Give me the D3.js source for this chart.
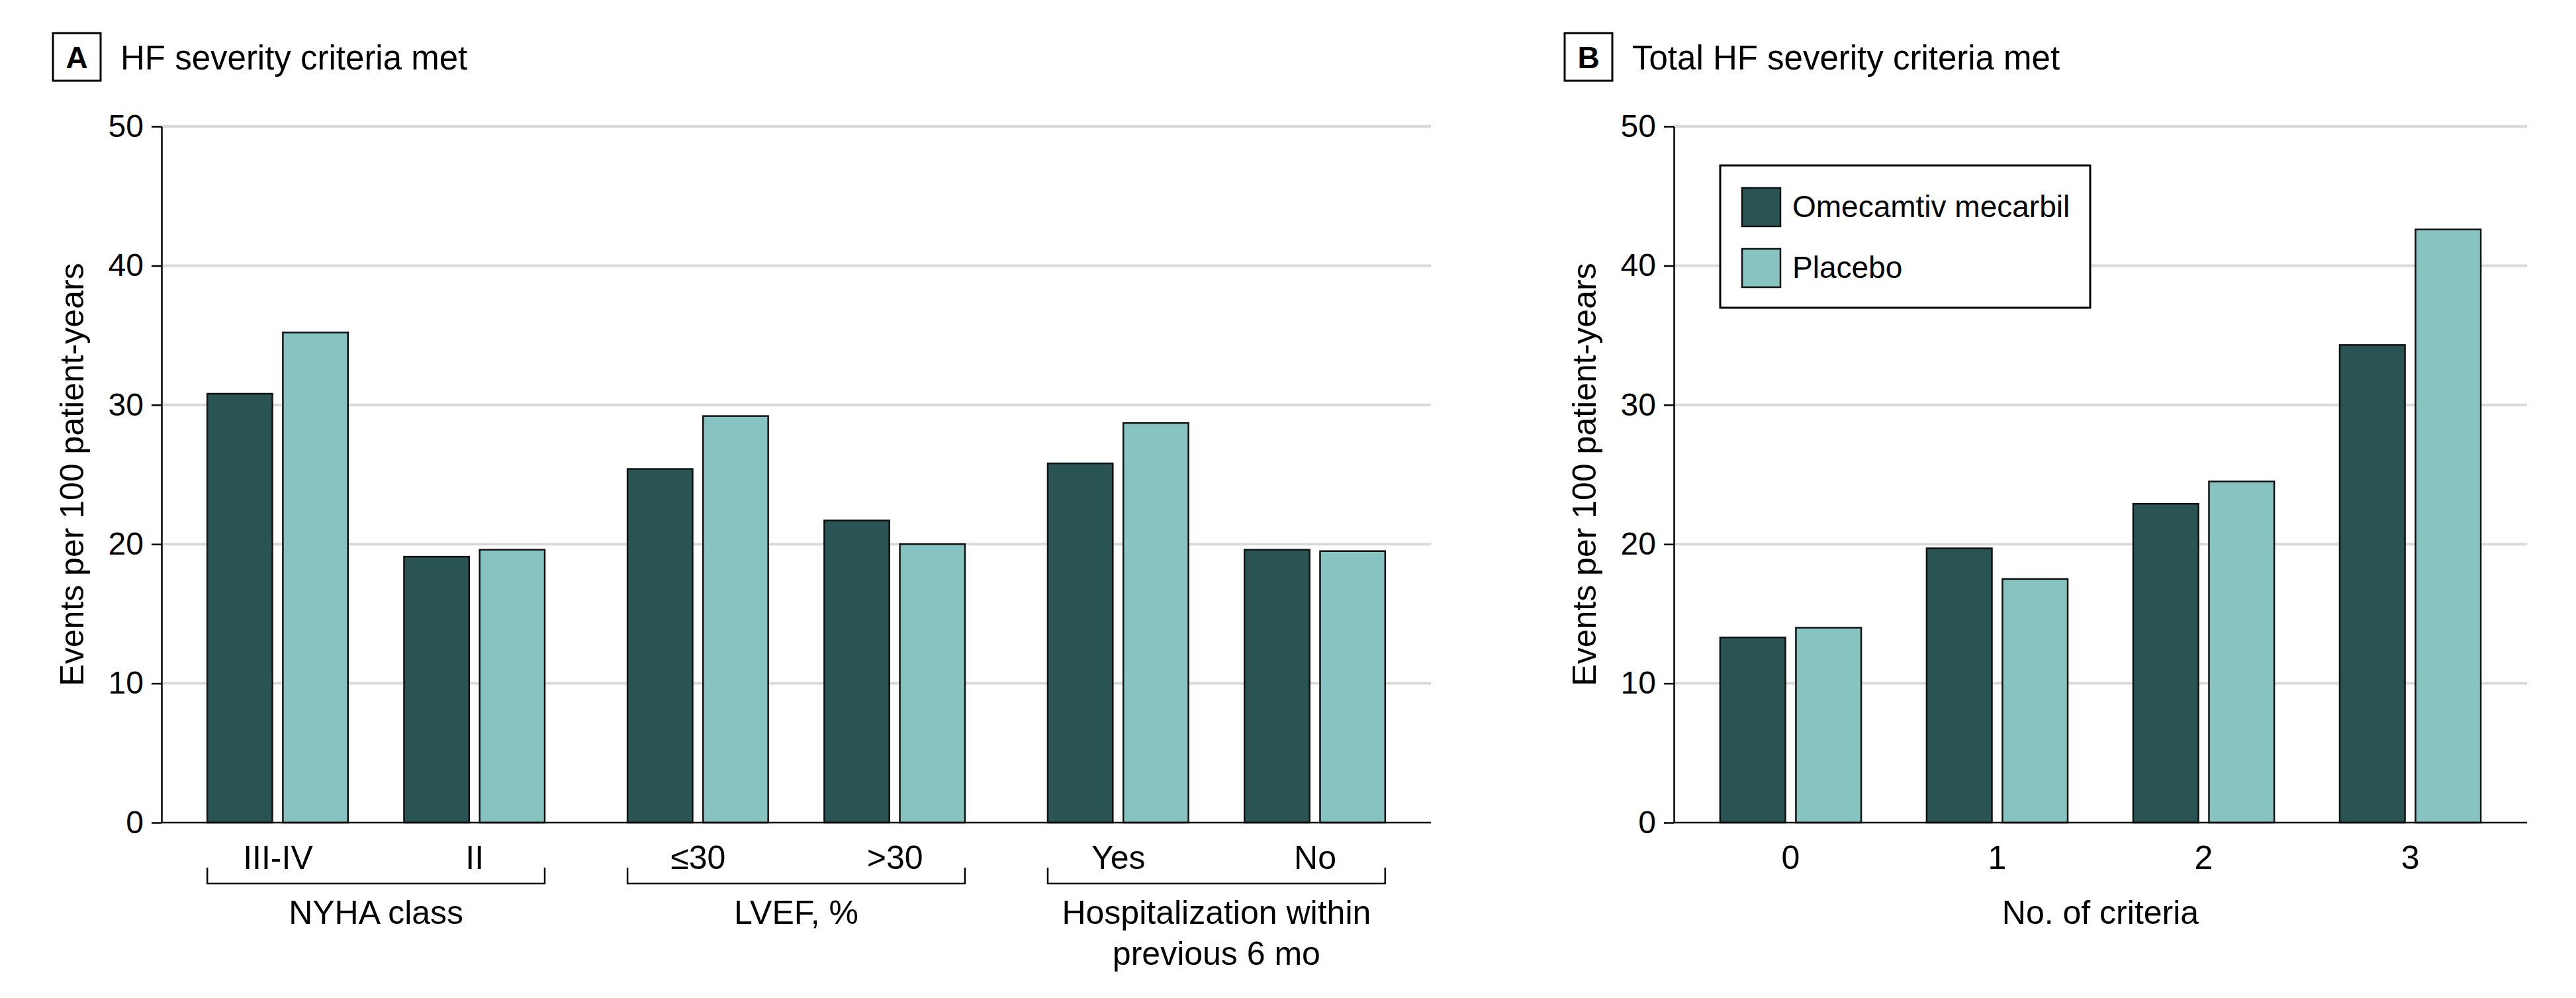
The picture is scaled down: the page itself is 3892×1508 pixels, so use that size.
<!DOCTYPE html>
<html>
<head>
<meta charset="utf-8">
<script src="https://cdn.jsdelivr.net/npm/d3@7"></script>
<style>
  html, body { margin: 0; padding: 0; background: #fff; }
  svg { display: block; }
  text { font-family: "Liberation Sans", Arial, sans-serif; fill: #000; }
</style>
</head>
<body>
<script>
// ---------------- data ----------------
const seriesNames = ["Omecamtiv mecarbil", "Placebo"];
const seriesColors = ["#2a5353", "#86c3c1"];

const panelAClusters = ["NYHA class", "LVEF, %", "Hospitalization within|previous 6 mo"];
const panelACategories = ["III-IV", "II", "≤30", ">30", "Yes", "No"];
const panelAClusterIndex = [0, 0, 1, 1, 2, 2];
const panelAOmecamtiv = [30.8, 19.1, 25.4, 21.7, 25.8, 19.6];
const panelAPlacebo = [35.2, 19.6, 29.2, 20.0, 28.7, 19.5];

const panelBCategories = ["0", "1", "2", "3"];
const panelBOmecamtiv = [13.3, 19.7, 22.9, 34.3];
const panelBPlacebo = [14.0, 17.5, 24.5, 42.6];

const yTicks = [0, 10, 20, 30, 40, 50];
const yTitle = "Events per 100 patient-years";
const panelATitle = "HF severity criteria met";
const panelBTitle = "Total HF severity criteria met";
const panelBXTitle = "No. of criteria";

// ---------------- setup ----------------
const W = 3892, H = 1508;
const svg = d3.select("body").append("svg").attr("width", W).attr("height", H);

const y = d3.scaleLinear().domain([0, 50]).range([1243, 191]);
const AXIS_W = 2.5;

function panelFrame(x0, x1, letter, boxX, titleText) {
  const g = svg.append("g");
  // gridlines
  g.selectAll("line.grid").data(yTicks.filter(d => d > 0)).join("line")
    .attr("x1", x0).attr("x2", x1)
    .attr("y1", d => y(d)).attr("y2", d => y(d))
    .attr("stroke", "#d9d9d9").attr("stroke-width", 4);
  // panel label box
  g.append("rect").attr("x", boxX).attr("y", 50).attr("width", 72).attr("height", 72)
    .attr("fill", "none").attr("stroke", "#000").attr("stroke-width", 3);
  g.append("text").attr("x", boxX + 36).attr("y", 103).attr("text-anchor", "middle")
    .attr("font-size", 46).attr("font-weight", "bold").text(letter);
  g.append("text").attr("x", boxX + 102).attr("y", 105)
    .attr("font-size", 51).text(titleText);
  // y title
  g.append("text").attr("transform", `translate(${x0 - 118},717) rotate(-90)`)
    .attr("text-anchor", "middle").attr("font-size", 50).text(yTitle);
  return g;
}

function yAxis(x0) {
  const ax = svg.append("g").attr("transform", `translate(${x0},0)`)
    .call(d3.axisLeft(y).tickValues(yTicks).tickSize(15).tickSizeOuter(0).tickPadding(12));
  ax.select(".domain").attr("stroke", "#000").attr("stroke-width", AXIS_W);
  ax.selectAll(".tick line").attr("stroke", "#000").attr("stroke-width", AXIS_W);
  ax.selectAll(".tick text").attr("font-size", 48).attr("font-family", "Liberation Sans, Arial, sans-serif").attr("fill", "#000");
}

function baseline(x0, x1) {
  svg.append("line").attr("x1", x0).attr("x2", x1).attr("y1", y(0)).attr("y2", y(0))
    .attr("stroke", "#000").attr("stroke-width", AXIS_W);
}

function drawBars(centersStart, bandW, valuesBySeries) {
  const s = d3.scaleBand().domain(seriesNames).range([0, bandW]).paddingInner(0.139);
  const rows = [];
  centersStart.forEach((x, i) => {
    seriesNames.forEach((name, k) => {
      rows.push({ x: x + s(name), v: valuesBySeries[k][i], c: seriesColors[k] });
    });
  });
  svg.append("g").selectAll("rect").data(rows).join("rect")
    .attr("x", d => d.x).attr("width", s.bandwidth())
    .attr("y", d => y(d.v)).attr("height", d => y(0) - y(d.v))
    .attr("fill", d => d.c).attr("stroke", "#111").attr("stroke-width", 2.5);
}

// ---------------- Panel A ----------------
const AX0 = 244, AX1 = 2162;
panelFrame(AX0, AX1, "A", 80, panelATitle);

const outerA = d3.scaleBand().domain(d3.range(panelAClusters.length)).range([AX0, AX1])
  .paddingInner(0.197).paddingOuter(0.109);
const innerA = d3.scaleBand().domain([0, 1]).range([0, outerA.bandwidth()])
  .paddingInner(0.285).paddingOuter(0);

const groupStartsA = panelACategories.map((c, i) => {
  const ci = panelAClusterIndex[i];
  const within = panelAClusterIndex.slice(0, i).filter(v => v === ci).length;
  return outerA(ci) + innerA(within);
});
drawBars(groupStartsA, innerA.bandwidth(), [panelAOmecamtiv, panelAPlacebo]);
baseline(AX0, AX1);
yAxis(AX0);

// x tick labels A via ordinal scale
const xLabA = d3.scaleOrdinal(panelACategories, groupStartsA.map(s => s + innerA.bandwidth() / 2));
const axA = svg.append("g").attr("transform", `translate(0,${y(0)})`)
  .call(d3.axisBottom(xLabA).tickSize(0).tickPadding(34));
axA.select(".domain").remove();
axA.selectAll(".tick text").attr("font-size", 50).attr("font-family", "Liberation Sans, Arial, sans-serif").attr("fill", "#000");

// cluster brackets + labels
panelAClusters.forEach((lab, ci) => {
  const x0 = outerA(ci), x1 = outerA(ci) + outerA.bandwidth();
  svg.append("path")
    .attr("d", `M${x0},1311V1335H${x1}V1311`)
    .attr("fill", "none").attr("stroke", "#000").attr("stroke-width", AXIS_W);
  const lines = lab.split("|");
  const t = svg.append("text").attr("text-anchor", "middle").attr("font-size", 50);
  lines.forEach((ln, li) => {
    t.append("tspan").attr("x", (x0 + x1) / 2).attr("y", 1396 + li * 62).text(ln);
  });
});

// ---------------- Panel B ----------------
const BX0 = 2529, BX1 = 3818;
panelFrame(BX0, BX1, "B", 2364, panelBTitle);

const xB = d3.scaleBand().domain(panelBCategories).range([BX0, BX1])
  .paddingInner(0.317).paddingOuter(0.224);
drawBars(panelBCategories.map(c => xB(c)), xB.bandwidth(), [panelBOmecamtiv, panelBPlacebo]);
baseline(BX0, BX1);
yAxis(BX0);

const axB = svg.append("g").attr("transform", `translate(0,${y(0)})`)
  .call(d3.axisBottom(xB).tickSize(0).tickPadding(34));
axB.select(".domain").remove();
axB.selectAll(".tick text").attr("font-size", 50).attr("font-family", "Liberation Sans, Arial, sans-serif").attr("fill", "#000");

svg.append("text").attr("x", (BX0 + BX1) / 2).attr("y", 1396).attr("text-anchor", "middle")
  .attr("font-size", 50).text(panelBXTitle);

// legend
const lg = svg.append("g");
lg.append("rect").attr("x", 2599).attr("y", 250).attr("width", 559).attr("height", 215)
  .attr("fill", "#fff").attr("stroke", "#000").attr("stroke-width", 3);
seriesNames.forEach((name, k) => {
  const yy = 284 + k * 92;
  lg.append("rect").attr("x", 2632).attr("y", yy).attr("width", 58).attr("height", 58)
    .attr("fill", seriesColors[k]).attr("stroke", "#111").attr("stroke-width", 2.5);
  lg.append("text").attr("x", 2708).attr("y", yy + 44).attr("font-size", 46).text(name);
});
</script>
</body>
</html>
